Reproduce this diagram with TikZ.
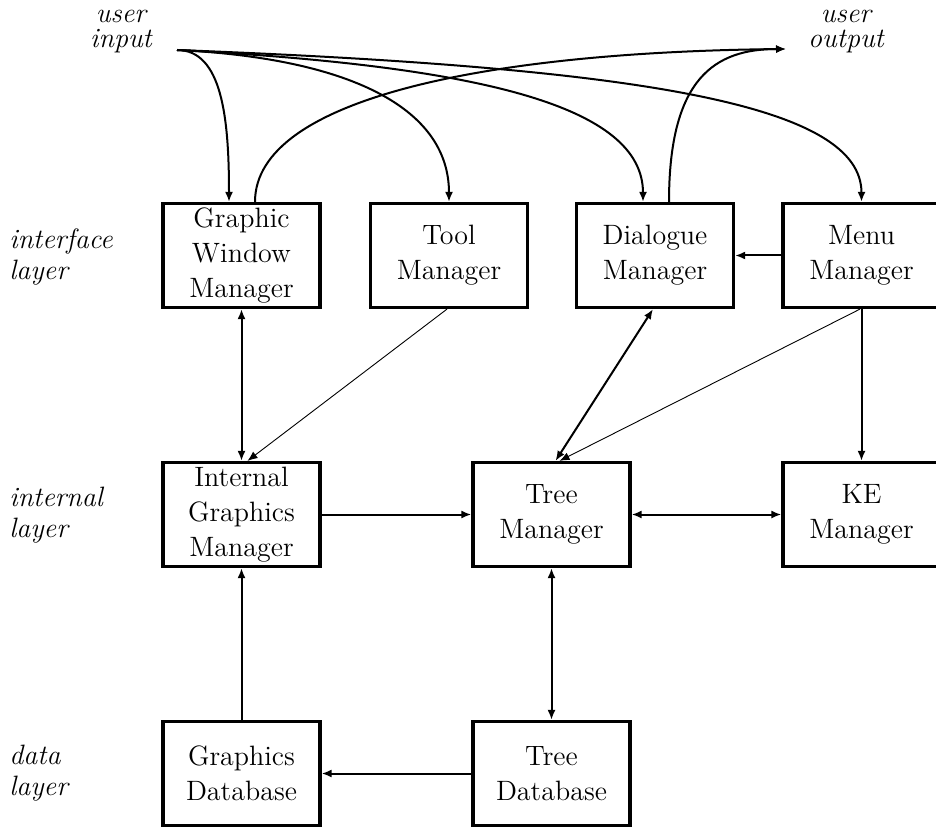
\documentclass[tikz,border=0pt]{standalone}
\usetikzlibrary{arrows.meta}
\begin{document}
\begin{tikzpicture}[x=0.5pt,y=-0.5pt,
  box/.style={draw,line width=1.6pt,minimum width=78.5pt,minimum height=52pt,align=center,inner sep=0pt,font=\fontsize{14}{17.5}\selectfont},
  lbl/.style={align=left,anchor=west,inner sep=0pt,font=\fontsize{14}{15.5}\selectfont\itshape},
  ulbl/.style={align=center,inner sep=0pt,font=\fontsize{14}{12.5}\selectfont\itshape},
  conn/.style={line width=1pt,-{Latex[length=5pt,width=4pt]}},
  bconn/.style={line width=1pt,{Latex[length=5pt,width=4pt]}-{Latex[length=5pt,width=4pt]}},
  thin/.style={line width=0.45pt,-{Latex[length=5pt,width=4pt]}}]
\useasboundingbox (0,0) rectangle (936,828);
% nodes
\node[box] (gwm) at (241.5,255.5) {Graphic\\Window\\Manager};
\node[box] (tool) at (449,255.5) {Tool\\Manager};
\node[box] (dlg) at (655,255.5) {Dialogue\\Manager};
\node[box] (menu) at (861.5,255.5) {Menu\\Manager};
\node[box] (igm) at (241.5,514.5) {Internal\\Graphics\\Manager};
\node[box] (tree) at (551.5,514.5) {Tree\\Manager};
\node[box] (ke) at (861.5,514.5) {KE\\Manager};
\node[box] (gdb) at (241.5,773.5) {Graphics\\Database};
\node[box] (tdb) at (551.5,773.5) {Tree\\Database};
% labels
\node[ulbl] (uin) at (121,32) {user\\input};
\node[ulbl] (uout) at (846,32) {user\\output};
\node[lbl] (lif) at (9,257) {interface\\layer};
\node[lbl] (lin) at (9,515) {internal\\layer};
\node[lbl] (lda) at (9,773) {data\\layer};
\coordinate (inpt) at (177,50);
\coordinate (outpt) at (786,49);
% input curves
\draw[conn] (inpt) .. controls (222,50) and ([xshift=-6.25pt,yshift=42pt]gwm.north) .. ([xshift=-6.25pt]gwm.north);
\draw[conn] (inpt) .. controls (345,58) and ([yshift=48pt]tool.north) .. (tool.north);
\draw[conn] (inpt) .. controls (480,66) and ([xshift=-6pt,yshift=48pt]dlg.north) .. ([xshift=-6pt]dlg.north);
\draw[conn] (inpt) .. controls (650,68) and ([yshift=48pt]menu.north) .. (menu.north);
% output curves
\draw[conn] ([xshift=6.75pt]gwm.north) .. controls ([xshift=6.75pt,yshift=52pt]gwm.north) and (490,52) .. (outpt);
\draw[conn] ([xshift=7pt]dlg.north) .. controls ([xshift=7pt,yshift=62pt]dlg.north) and (715,49) .. (outpt);
% internal connectors
\draw[bconn] (gwm.south) -- (igm.north);
\draw[thin] ([xshift=-1pt]tool.south) -- ([xshift=3pt]igm.north);
\draw[bconn] ([xshift=-1pt]dlg.south) -- ([xshift=2pt]tree.north);
\draw[thin] ([xshift=-0.75pt]menu.south) -- ([xshift=4pt]tree.north);
\draw[conn] (menu.south) -- (ke.north);
\draw[conn] (menu.west) -- (dlg.east);
\draw[conn] (igm.east) -- (tree.west);
\draw[bconn] (tree.east) -- (ke.west);
\draw[bconn] (tree.south) -- (tdb.north);
\draw[conn] (tdb.west) -- (gdb.east);
\draw[conn] (gdb.north) -- (igm.south);
\end{tikzpicture}
\end{document}
